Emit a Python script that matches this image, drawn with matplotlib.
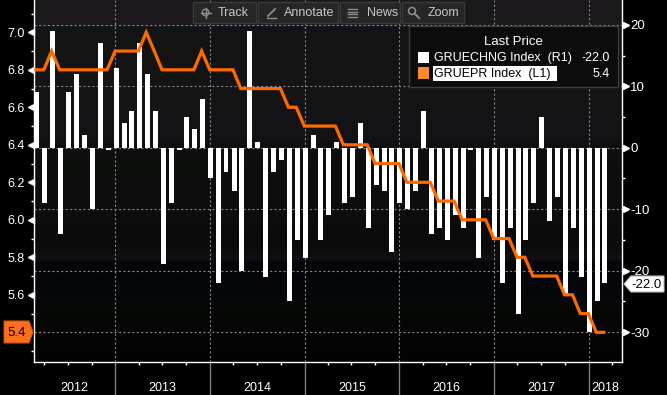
import numpy as np
import pandas as pd
import matplotlib
matplotlib.use("Agg")
import matplotlib.pyplot as plt
import matplotlib.dates as mdates
import matplotlib.transforms as mtransforms
from matplotlib.patches import Rectangle, Polygon, Circle
from matplotlib.lines import Line2D
from matplotlib.colors import LinearSegmentedColormap

plt.rcParams["font.family"] = ["Liberation Sans", "DejaVu Sans"]

# monthly data, Feb 2012 - Feb 2018 (month-end dates)
months = pd.date_range("2012-02-01", periods=73, freq="MS") + pd.offsets.MonthEnd(0)

# GRUECHNG Index (R1) - monthly change
gruechng = [
    9, -9, 19, -14, 9, 12, 2, -10, 17, -0.3, 13,                # 2012 (Feb-Dec)
    4, 6, 17, 12, 6, -19, -9, -0.3, 5, 3, 8, -5,                # 2013
    -22, -4, -7, -20, 19, 1, -21, -4, -2, -25, -15, -18,        # 2014
    2, -15, -11, 1, -9, -8, 4, -13, -6, -7, -17, -9,            # 2015
    -10, -7, 6, -14, -13, -15, -11, -13, -0.3, -18, -8, -15,    # 2016
    -22, -13, -27, -15, -9, 5, -12, -8, -24, -13, -21, -30,     # 2017
    -25, -22,                                                   # 2018
]

# GRUEPR Index (L1)
gruepr = [
    6.8, 6.8, 6.9, 6.8, 6.8, 6.8, 6.8, 6.8, 6.8, 6.8, 6.9,
    6.9, 6.9, 6.9, 7.0, 6.9, 6.8, 6.8, 6.8, 6.8, 6.8, 6.9, 6.8,
    6.8, 6.8, 6.8, 6.7, 6.7, 6.7, 6.7, 6.7, 6.7, 6.6, 6.6, 6.5,
    6.5, 6.5, 6.5, 6.5, 6.4, 6.4, 6.4, 6.4, 6.3, 6.3, 6.3, 6.3,
    6.2, 6.2, 6.2, 6.2, 6.1, 6.1, 6.1, 6.0, 6.0, 6.0, 6.0, 5.9,
    5.9, 5.9, 5.8, 5.8, 5.7, 5.7, 5.7, 5.7, 5.6, 5.6, 5.5, 5.5,
    5.4, 5.4,
]

years = [2012, 2013, 2014, 2015, 2016, 2017, 2018]
left_ticks = [5.6, 5.8, 6.0, 6.2, 6.4, 6.6, 6.8, 7.0]
left_minor = [5.3, 5.5, 5.7, 5.9, 6.1, 6.3, 6.5, 6.7, 6.9, 7.1]
right_ticks = [-30, -20, -10, 0, 10, 20]
right_minor = [-25, -15, -5, 5, 15]
last_chng = "-22.0"
last_pr = "5.4"

W, H = 667, 395
L, R, T, B = 34, 622, 0, 362

fig = plt.figure(figsize=(W / 100, H / 100), dpi=100, facecolor="black")
axb = fig.add_axes([L / W, 1 - B / H, (R - L) / W, (B - T) / H])
axl = axb.twinx()

# background gradient (top -> bottom)
stops = [(0.0, "#1c1a1d"), (0.065, "#1b191c"), (0.075, "#11141a"), (0.10, "#131512"),
         (0.28, "#151416"), (0.38, "#141215"), (0.40, "#0e1013"), (0.45, "#0d0f0d"),
         (0.68, "#0b0b0b"), (0.715, "#120f12"), (0.73, "#04050b"), (0.82, "#05070a"),
         (0.84, "#060906"), (0.92, "#040504"), (1.0, "#030303")]
cmap = LinearSegmentedColormap.from_list("bbg", stops)
grad = np.linspace(0, 1, 400).reshape(-1, 1)
axb.imshow(grad, cmap=cmap, extent=[0, 1, 0, 1], transform=axb.transAxes,
           aspect="auto", zorder=0, interpolation="bilinear")

x = mdates.date2num(months)
axb.bar(x + 4, gruechng, width=19, color="white", linewidth=0, zorder=2)
axl.plot(x, gruepr, color="#ff6a00", lw=2.3, solid_joinstyle="miter", zorder=3)

x0 = mdates.date2num(pd.Timestamp("2012-02-22"))
x1 = mdates.date2num(pd.Timestamp("2018-05-10"))
axb.set_xlim(x0, x1)
axb.set_ylim(-34.88, 24.04)
axl.set_ylim(5.2416, 7.1723)

# x axis: year boundaries + quarter ticks
year_bounds = [mdates.date2num(pd.Timestamp(f"{y}-01-01")) for y in years[1:]]
quarters = [mdates.date2num(pd.Timestamp(f"{y}-{m:02d}-01")) for y in years for m in (4, 7, 10)]
quarters = [q for q in quarters if x0 < q < x1]
axb.set_xticks(year_bounds)
axb.set_xticklabels([])
axb.set_xticks(quarters, minor=True)
axb.tick_params(axis="x", which="major", length=0)
axb.tick_params(axis="x", which="minor", length=2.2, width=1, color="white", direction="out")

grid_kw = dict(color="#858585", linestyle=(0, (2, 2)), linewidth=0.8)
axb.set_axisbelow(True)
axb.grid(True, which="major", axis="both", **grid_kw)

# right axis (bars)
axb.yaxis.tick_right()
axb.set_yticks(right_ticks)
axb.set_yticklabels([str(v) for v in right_ticks])
axb.set_yticks(right_minor, minor=True)
axb.tick_params(axis="y", which="both", left=False, right=True, labelleft=False, labelright=True)
axb.tick_params(axis="y", which="major", length=0, pad=5.8, labelsize=9.5, labelcolor="white")
axb.tick_params(axis="y", which="minor", length=2.2, width=1, color="white")

# left axis (line)
axl.yaxis.tick_left()
axl.set_yticks(left_ticks)
axl.set_yticklabels([f"{v:.1f}" for v in left_ticks])
axl.set_yticks(left_minor, minor=True)
axl.tick_params(axis="y", which="both", left=True, right=False, labelleft=True, labelright=False)
axl.tick_params(axis="y", which="major", length=0, pad=6.8, labelsize=9, labelcolor="white")
axl.tick_params(axis="y", which="minor", length=2.2, width=1, color="white")

for s in ["left", "right", "bottom"]:
    axb.spines[s].set_color("white")
    axb.spines[s].set_linewidth(1)
axb.spines["top"].set_visible(False)
for s in axl.spines.values():
    s.set_visible(False)

# triangle tick markers
tl = mtransforms.blended_transform_factory(axl.transAxes, axl.transData)
axl.plot([-3.5 / (R - L)] * len(left_ticks), left_ticks, ls="none", marker="<", ms=4.8,
         color="white", transform=tl, clip_on=False)
tr = mtransforms.blended_transform_factory(axb.transAxes, axb.transData)
axb.plot([1 + 3.5 / (R - L)] * len(right_ticks), right_ticks, ls="none", marker=">", ms=4.8,
         color="white", transform=tr, clip_on=False)

# year labels and separators under the axis
tx = mtransforms.blended_transform_factory(axb.transData, axb.transAxes)
for b in year_bounds:
    axb.plot([b, b], [0, -(H - B) / (B - T)], color="#7f7f7f", lw=1, transform=tx, clip_on=False)
for y in years:
    s = max(mdates.date2num(pd.Timestamp(f"{y}-01-01")), x0)
    e = min(mdates.date2num(pd.Timestamp(f"{y + 1}-01-01")), x1)
    axb.text((s + e) / 2, (B - 388) / (B - T), str(y), transform=tx, ha="center", va="center",
             color="white", fontsize=9)


# overlay helpers in pixel coordinates (origin top-left)
def rect(xa, ya, xb, yb, **kw):
    fig.add_artist(Rectangle((xa / 100, (H - yb) / 100), (xb - xa) / 100, (yb - ya) / 100,
                             transform=fig.dpi_scale_trans, **kw))


def ftext(xp, yp, s, **kw):
    fig.text(xp / 100, (H - yp) / 100, s, transform=fig.dpi_scale_trans, **kw)


def fline(xs, ys, **kw):
    fig.add_artist(Line2D([v / 100 for v in xs], [(H - v) / 100 for v in ys],
                          transform=fig.dpi_scale_trans, **kw))


def fpoly(pts, **kw):
    fig.add_artist(Polygon([(p[0] / 100, (H - p[1]) / 100) for p in pts],
                           transform=fig.dpi_scale_trans, **kw))


# toolbar
btn_fc, btn_ec, btn_tc, icon_c = "#262626", "#3a3a3a", "#c8c8c8", "#8e8e8e"
for xa, xb, label, tx0 in [(193, 256, "Track", 218), (258, 338, "Annotate", 284),
                           (340, 400, "News", 367), (402, 464, "Zoom", 428)]:
    rect(xa, 2, xb, 23, facecolor=btn_fc, edgecolor=btn_ec, lw=1)
    ftext(tx0, 12.5, label, color=btn_tc, fontsize=9, ha="left", va="center")
fig.add_artist(Circle((205.5 / 100, (H - 12.5) / 100), 3.3 / 100, transform=fig.dpi_scale_trans,
                      fill=False, edgecolor=icon_c, lw=1))
fline([200.5, 210.5], [12.5, 12.5], color=icon_c, lw=1)
fline([205.5, 205.5], [7.5, 17.5], color=icon_c, lw=1)
fline([268, 275], [16, 9], color=icon_c, lw=1.3)
fline([266.5, 276], [17.5, 17.5], color=icon_c, lw=1)
for yy in (9, 11.5, 14, 16.5):
    fline([348, 357], [yy, yy], color=icon_c, lw=1)
fig.add_artist(Circle((412 / 100, (H - 11) / 100), 3.5 / 100, transform=fig.dpi_scale_trans,
                      fill=False, edgecolor=icon_c, lw=1.1))
fline([414.5, 419], [13.5, 18], color=icon_c, lw=1.4)

# legend
rect(409, 26, 618, 87, facecolor="#0c0c0c", edgecolor="#3c3c3c", lw=1)
ftext(513.5, 42, "Last Price", color="white", fontsize=9.5, ha="center", va="center")
rect(418, 52, 429, 63, facecolor="white", edgecolor="none")
rect(418, 67, 429, 79, facecolor="#fb8a2e", edgecolor="none")
ftext(434, 58, "GRUECHNG Index  (R1)", color="white", fontsize=9, ha="left", va="center")
ftext(610, 58, last_chng, color="white", fontsize=9, ha="right", va="center")
rect(433, 66, 557, 81, facecolor="white", edgecolor="none")
ftext(434, 74, "GRUEPR Index  (L1)", color="black", fontsize=9, ha="left", va="center")
ftext(610, 74, last_pr, color="white", fontsize=9, ha="right", va="center")

# last value tags on the axes
fpoly([(624, 284), (631, 276), (664, 276), (664, 292), (631, 292)],
      facecolor="white", edgecolor="#bbbbbb", lw=0.8)
ftext(647, 284.5, last_chng, color="black", fontsize=9.5, ha="center", va="center")
fpoly([(4, 321), (29, 321), (33, 332), (29, 343), (4, 343)],
      facecolor="#ff6e1a", edgecolor="#c85000", lw=0.8)
ftext(16.5, 332.5, last_pr, color="black", fontsize=9.5, ha="center", va="center")

fig.savefig("out.png", dpi=100, facecolor="black")
